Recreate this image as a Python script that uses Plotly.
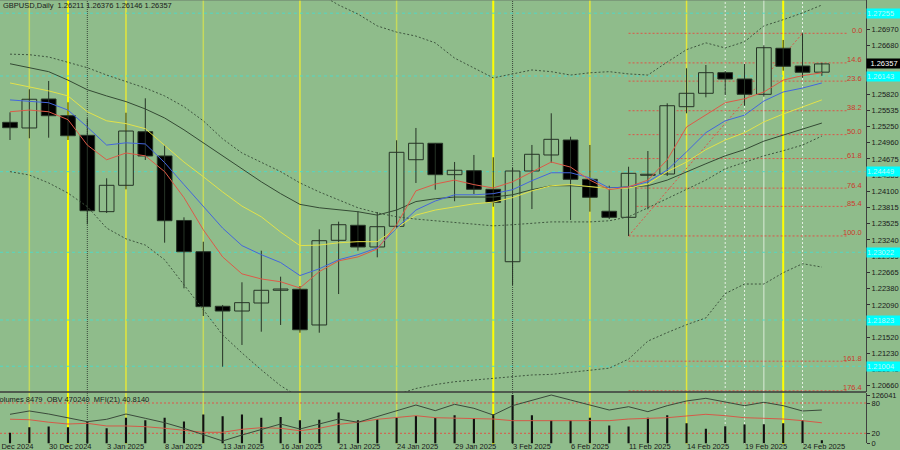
import plotly.graph_objects as go

# ---------------- data ----------------
dates = ["26 Dec 2024", "27 Dec 2024", "30 Dec 2024", "31 Dec 2024", "2 Jan 2025", "3 Jan 2025",
         "6 Jan 2025", "7 Jan 2025", "8 Jan 2025", "9 Jan 2025", "10 Jan 2025", "13 Jan 2025",
         "14 Jan 2025", "15 Jan 2025", "16 Jan 2025", "17 Jan 2025", "20 Jan 2025", "21 Jan 2025",
         "22 Jan 2025", "23 Jan 2025", "24 Jan 2025", "27 Jan 2025", "28 Jan 2025", "29 Jan 2025",
         "30 Jan 2025", "31 Jan 2025", "3 Feb 2025", "4 Feb 2025", "5 Feb 2025", "6 Feb 2025",
         "7 Feb 2025", "10 Feb 2025", "11 Feb 2025", "12 Feb 2025", "13 Feb 2025", "14 Feb 2025",
         "17 Feb 2025", "18 Feb 2025", "19 Feb 2025", "20 Feb 2025", "21 Feb 2025", "24 Feb 2025",
         "25 Feb 2025"]
first_label = "24 Dec 2024"

opens = [1.25323, 1.25223, 1.25736, 1.25440, 1.25093, 1.23741, 1.24208, 1.25157, 1.24727, 1.23585,
         1.23032, 1.22066, 1.21982, 1.22124, 1.22349, 1.22367, 1.21735, 1.23234, 1.23500, 1.23116,
         1.23482, 1.24661, 1.24952, 1.24396, 1.24467, 1.24137, 1.22855, 1.24461, 1.24745, 1.25010,
         1.24314, 1.23748, 1.23641, 1.24385, 1.24408, 1.25600, 1.25837, 1.26202, 1.26090, 1.25819,
         1.26634, 1.26320, 1.26211]
highs = [1.25500, 1.25908, 1.26055, 1.25678, 1.25394, 1.24332, 1.25493, 1.25748, 1.24922, 1.23641,
         1.23209, 1.22089, 1.22491, 1.23050, 1.22590, 1.22425, 1.23429, 1.23564, 1.23748, 1.23735,
         1.25005, 1.25223, 1.24957, 1.24621, 1.24745, 1.24704, 1.24514, 1.24922, 1.25483, 1.25068,
         1.24922, 1.24201, 1.24537, 1.24815, 1.25660, 1.26280, 1.26338, 1.26232, 1.26356, 1.26687,
         1.26781, 1.26899, 1.26376]
lows = [1.25010, 1.25040, 1.25051, 1.25010, 1.23518, 1.23718, 1.24137, 1.24656, 1.23192, 1.22384,
        1.21894, 1.20996, 1.21381, 1.21616, 1.21735, 1.21598, 1.21598, 1.22283, 1.23050, 1.22933,
        1.23452, 1.24249, 1.24130, 1.23925, 1.24054, 1.23829, 1.22443, 1.23788, 1.24608, 1.23594,
        1.23741, 1.23611, 1.23311, 1.23783, 1.24373, 1.25483, 1.25766, 1.25807, 1.25617, 1.25777,
        1.26237, 1.26113, 1.26146]
closes = [1.25228, 1.25731, 1.25440, 1.25086, 1.23758, 1.24208, 1.25169, 1.24727, 1.23581, 1.23032,
          1.22059, 1.21982, 1.22130, 1.22349, 1.22372, 1.21651, 1.23227, 1.23510, 1.23116, 1.23475,
          1.24792, 1.24952, 1.24396, 1.24474, 1.24137, 1.23907, 1.24461, 1.24757, 1.25022, 1.24314,
          1.23996, 1.23641, 1.24420, 1.24403, 1.25617, 1.25837, 1.26202, 1.26090, 1.25819, 1.26644,
          1.26315, 1.26209, 1.26357]

ma_red = [1.2551, 1.2554, 1.2551, 1.2537, 1.2492, 1.2466, 1.2478, 1.2473, 1.2445, 1.2399,
          1.2342, 1.2294, 1.2264, 1.2255, 1.2250, 1.2239, 1.2268, 1.2287, 1.2294, 1.2308,
          1.2351, 1.2411, 1.2423, 1.2430, 1.2422, 1.2416, 1.2427, 1.2445, 1.2462, 1.2453,
          1.2430, 1.2413, 1.2418, 1.2430, 1.2466, 1.2524, 1.2545, 1.2567, 1.2574, 1.2586,
          1.2607, 1.2615, 1.2620]
ma_blue = [1.2572, 1.2570, 1.2567, 1.2554, 1.2524, 1.2492, 1.2496, 1.2494, 1.2461, 1.2422,
           1.2383, 1.2345, 1.2314, 1.2298, 1.2284, 1.2261, 1.2273, 1.2289, 1.2298, 1.2310,
           1.2345, 1.2377, 1.2393, 1.2404, 1.2404, 1.2406, 1.2413, 1.2429, 1.2443, 1.2443,
           1.2434, 1.2416, 1.2418, 1.2427, 1.2448, 1.2480, 1.2514, 1.2535, 1.2545, 1.2570,
           1.2586, 1.2593, 1.2602]
ma_yellow = [1.2602, 1.2595, 1.2588, 1.2579, 1.2551, 1.2535, 1.2530, 1.2521, 1.2491, 1.2462,
             1.2436, 1.2409, 1.2384, 1.2365, 1.2338, 1.2314, 1.2315, 1.2319, 1.2321, 1.2321,
             1.2345, 1.2368, 1.2377, 1.2383, 1.2388, 1.2391, 1.2399, 1.2411, 1.2420, 1.2422,
             1.2418, 1.2415, 1.2416, 1.2423, 1.2445, 1.2462, 1.2484, 1.2501, 1.2514, 1.2533,
             1.2547, 1.2560, 1.2572]
ma_dark = [1.2636, 1.2629, 1.2622, 1.2607, 1.2590, 1.2579, 1.2569, 1.2556, 1.2540, 1.2519,
           1.2496, 1.2473, 1.2450, 1.2427, 1.2406, 1.2387, 1.2381, 1.2377, 1.2374, 1.2368,
           1.2377, 1.2392, 1.2397, 1.2400, 1.2400, 1.2400, 1.2404, 1.2413, 1.2420, 1.2420,
           1.2418, 1.2416, 1.2418, 1.2420, 1.2430, 1.2445, 1.2459, 1.2473, 1.2484, 1.2499,
           1.2510, 1.2521, 1.2531]
bb_mid = [1.2653, 1.2652, 1.2648, 1.2639, 1.2629, 1.2616, 1.2604, 1.2593, 1.2579, 1.2560,
          1.2535, 1.2503, 1.2478, 1.2462, 1.2445, 1.2425, 1.2409, 1.2395, 1.2381, 1.2372,
          1.2365, 1.2361, 1.2358, 1.2354, 1.2351, 1.2349, 1.2351, 1.2354, 1.2356, 1.2356,
          1.2356, 1.2358, 1.2365, 1.2381, 1.2397, 1.2413, 1.2430, 1.2450, 1.2462, 1.2473,
          1.2482, 1.2492, 1.2508]
bb_upper = [1.2862, 1.2864, 1.2871, 1.2871, 1.2875, 1.2887, 1.2882, 1.2871, 1.2869, 1.2875,
            1.2869, 1.2850, 1.2832, 1.2830, 1.2811, 1.2784, 1.2760, 1.2740, 1.2724, 1.2703,
            1.2692, 1.2685, 1.2673, 1.2646, 1.2629, 1.2611, 1.2618, 1.2625, 1.2622, 1.2616,
            1.2620, 1.2622, 1.2618, 1.2616, 1.2639, 1.2661, 1.2673, 1.2664, 1.2675, 1.2703,
            1.2714, 1.2726, 1.2740]
bb_lower = [1.2445, 1.2439, 1.2425, 1.2407, 1.2383, 1.2345, 1.2326, 1.2315, 1.2289, 1.2245,
            1.2200, 1.2156, 1.2124, 1.2094, 1.2066, 1.2045, 1.2032, 1.2027, 1.2032, 1.2041,
            1.2050, 1.2061, 1.2068, 1.2073, 1.2076, 1.2080, 1.2083, 1.2085, 1.2086, 1.2090,
            1.2093, 1.2097, 1.2113, 1.2145, 1.2160, 1.2174, 1.2186, 1.2229, 1.2246, 1.2246,
            1.2266, 1.2282, 1.2276]

volumes = [27500, 42300, 44100, 42300, 55500, 39600, 67100, 60000, 67100, 57300,
           75000, 70500, 75000, 67100, 68700, 60000, 61800, 80300, 60000, 62600,
           66000, 71300, 66000, 73200, 66000, 75800, 126041, 73200, 60000, 60000,
           67100, 46800, 44100, 67100, 73200, 52800, 38000, 44900, 49400, 50200,
           52800, 60000, 8479]
mfi = [47.9, 46.9, 42.0, 38.4, 39.8, 34.5, 34.5, 33.1, 29.9, 26.5,
       22.0, 22.0, 27.9, 31.1, 29.9, 25.1, 29.9, 37.8, 41.8, 47.7,
       51.7, 54.9, 50.9, 49.7, 49.7, 48.3, 45.0, 45.0, 45.0, 45.0,
       46.3, 45.0, 48.3, 49.7, 50.9, 54.3, 57.6, 54.9, 50.9, 49.7,
       48.3, 45.0, 40.814]
obv = [413300, 457500, 417300, 368400, 315500, 347000, 417300, 360400, 302100, 227700,
       148000, 59600, 138600, 214300, 284700, 218400, 284700, 351000, 307500, 381800,
       457500, 536600, 461600, 546000, 493100, 403900, 527900, 602900, 669300, 602900,
       536600, 470300, 514500, 448200, 527900, 590200, 625700, 580800, 527900, 572800,
       527900, 457500, 470240]

price_ticks = [1.26970, 1.26680, 1.26395, 1.26110, 1.25820, 1.25535, 1.25250, 1.24960, 1.24675,
               1.24385, 1.24100, 1.23815, 1.23525, 1.23240, 1.22955, 1.22665, 1.22380, 1.22090,
               1.21805, 1.21520, 1.21230, 1.20945, 1.20660]
fib_ratios = [0.0, 14.6, 23.6, 38.2, 50.0, 61.8, 76.4, 85.4, 100.0, 161.8, 176.4]
fib_low_idx, fib_high_idx = 32, 41
cyan_levels = [1.27255, 1.26143, 1.24449, 1.23022, 1.21823, 1.21004]
mfi_levels = [80, 20]

vl_bright = [3, 25, 40]
vl_mid = [6, 15, 30, 35]
vl_pale = [1, 10, 20]
vl_white_dot = [37, 38, 41]
vl_white = [39]
vl_dark_dot = [4, 26]

# ---------------- styles ----------------
BG = "#8fbc8b"
FONT = "Liberation Sans"
n = len(dates)
xs = list(range(n))

fig = go.Figure()

# wicks
wx, wy = [], []
for i in xs:
    wx += [i, i, None]
    wy += [lows[i], highs[i], None]
fig.add_trace(go.Scatter(x=wx, y=wy, mode="lines", line=dict(color="#263326", width=1),
                         hoverinfo="skip", showlegend=False))

bull = [i for i in xs if closes[i] >= opens[i]]
bear = [i for i in xs if closes[i] < opens[i]]
fig.add_trace(go.Bar(x=bull, base=[opens[i] for i in bull],
                     y=[closes[i] - opens[i] for i in bull], width=0.76,
                     marker=dict(color=BG, line=dict(color="#263326", width=1)),
                     showlegend=False))
fig.add_trace(go.Bar(x=bear, base=[closes[i] for i in bear],
                     y=[opens[i] - closes[i] for i in bear], width=0.76,
                     marker=dict(color="#000000", line=dict(color="#263326", width=1)),
                     showlegend=False))

for arr, col in [(ma_dark, "#344a34"), (ma_yellow, "#e2e24a"), (ma_blue, "#4466dd"), (ma_red, "#dd5a48")]:
    fig.add_trace(go.Scatter(x=xs, y=arr, mode="lines", line=dict(color=col, width=1),
                             showlegend=False, hoverinfo="skip"))
for arr in [bb_upper, bb_mid, bb_lower]:
    fig.add_trace(go.Scatter(x=xs, y=arr, mode="lines",
                             line=dict(color="#3f563f", width=1, dash="2px,2px"),
                             showlegend=False, hoverinfo="skip"))

# lower panel
fig.add_trace(go.Bar(x=xs, y=volumes, width=0.11, marker=dict(color="#111111", line=dict(width=0)),
                     xaxis="x2", yaxis="y2", showlegend=False))
fig.add_trace(go.Scatter(x=xs, y=obv, mode="lines", line=dict(color="#3b4a3b", width=1),
                         xaxis="x2", yaxis="y4", showlegend=False))
fig.add_trace(go.Scatter(x=xs, y=mfi, mode="lines", line=dict(color="#d55a48", width=1),
                         xaxis="x2", yaxis="y3", showlegend=False))

# ---------------- layout geometry ----------------
W, H = 900, 450
ML, MR, MT, MB = 0, 34, 0, 6
PH = H - MT - MB
PW = W - ML - MR
bar_px = 19.33
x_first_px = 10
x_lo = -x_first_px / bar_px
x_hi = (PW - x_first_px) / bar_px
px_per_price = 5648.0
y_top_price = 1.26970 + 29.3 / px_per_price
main_bottom_px = 392
y_bot_price = y_top_price - main_bottom_px / px_per_price
main_dom = [(PH - main_bottom_px) / PH, 1]
low_dom = [(PH - 443.4) / PH, (PH - 392.9) / PH]

def to_paper(i):
    return (i - x_lo) / (x_hi - x_lo)

shapes = []
def vline(i, color, width, dash="solid"):
    shapes.append(dict(type="line", xref="x", yref="paper", x0=i, x1=i, y0=0, y1=1,
                       layer="below", line=dict(color=color, width=width, dash=dash)))
for i in vl_pale:
    vline(i, "#c6da5c", 1.5)
for i in vl_mid:
    vline(i, "#e4e63a", 1.5)
for i in vl_bright:
    vline(i, "#ffff00", 2)
for i in vl_white:
    vline(i, "#dcebd8", 1)
for i in vl_white_dot:
    vline(i, "#e6f0e4", 1, "2px,2px")
for i in vl_dark_dot:
    vline(i, "#3a463a", 1, "1px,1px")

for lv in cyan_levels:
    shapes.append(dict(type="line", xref="paper", yref="y", x0=0, x1=1, y0=lv, y1=lv,
                       layer="below", line=dict(color="#52d8c4", width=1, dash="3px,3px")))

fib_hi = highs[fib_high_idx]
fib_lo = lows[fib_low_idx]
fib_end = (848 - x_first_px) / bar_px
fib_lab_x = (864 - x_first_px) / bar_px
annotations = []
for r in fib_ratios:
    lv = fib_hi - (fib_hi - fib_lo) * r / 100.0
    shapes.append(dict(type="line", xref="x", yref="y", x0=fib_low_idx, x1=fib_end, y0=lv, y1=lv,
                       layer="below", line=dict(color="#dd5548", width=1, dash="2px,2px")))
    annotations.append(dict(x=fib_lab_x, y=lv, xref="x", yref="y", text=f"{r:.1f}",
                            showarrow=False, xanchor="right", yanchor="middle", yshift=3,
                            font=dict(family=FONT, size=7.5, color="#cc3a2c")))
shapes.append(dict(type="line", xref="x", yref="y", x0=fib_low_idx, x1=fib_high_idx,
                   y0=fib_lo, y1=fib_hi, layer="below",
                   line=dict(color="#dd5548", width=1, dash="2px,2px")))

for lv in mfi_levels:
    shapes.append(dict(type="line", xref="paper", yref="y3", x0=0, x1=1, y0=lv, y1=lv,
                       layer="below", line=dict(color="#dd5548", width=1, dash="2px,2px")))

shapes.append(dict(type="line", xref="paper", yref="paper", x0=0, x1=1,
                   y0=main_dom[0], y1=main_dom[0], line=dict(color="#3a3a3a", width=1.5)))
shapes.append(dict(type="line", xref="paper", yref="paper", x0=0, x1=1, y0=1, y1=1,
                   line=dict(color="#6a7a6a", width=1)))

# cyan price boxes and current price box
for lv in cyan_levels:
    annotations.append(dict(x=1, y=lv, xref="paper", yref="y", text=f"{lv:.5f}", showarrow=False,
                            xanchor="left", yanchor="middle", bgcolor="#00ffff", borderpad=0,
                            width=34, align="left",
                            font=dict(family=FONT, size=7.5, color="#bff8f8")))
annotations.append(dict(x=1, y=closes[-1], xref="paper", yref="y", text=f"{closes[-1]:.5f}",
                        showarrow=False, xanchor="left", yanchor="middle", bgcolor="#000000",
                        borderpad=0, width=34, align="center",
                        font=dict(family=FONT, size=7.5, color="#ffffff")))

annotations.append(dict(x=2 / PW, y=1, xref="paper", yref="paper", xanchor="left", yanchor="top",
                        text=f"GBPUSD,Daily  {opens[-1]:.5f} {highs[-1]:.5f} {lows[-1]:.5f} {closes[-1]:.5f}",
                        showarrow=False, borderpad=0,
                        font=dict(family=FONT, size=7.5, color="#1a1a1a")))
annotations.append(dict(x=-6 / PW, y=low_dom[1] - 0.002, xref="paper", yref="paper",
                        xanchor="left", yanchor="top",
                        text=f"Volumes {volumes[-1]}  OBV {obv[-1]}  MFI(21) {mfi[-1]:.4f}",
                        showarrow=False, borderpad=0,
                        font=dict(family=FONT, size=7.5, color="#1a1a1a")))

# date labels
date_lbl = [(-1, first_label)] + [(i, dates[i]) for i in range(2, n, 3)]
for i, t in date_lbl:
    annotations.append(dict(x=to_paper(i), y=0, xref="paper", yref="paper", xanchor="left",
                            yanchor="top", xshift=-1, yshift=3, text=t, showarrow=False,
                            borderpad=0, font=dict(family=FONT, size=7.5, color="#1a1a1a")))

tickfont = dict(family=FONT, size=7.5, color="#1a1a1a")
fig.update_layout(
    width=W, height=H, margin=dict(l=ML, r=MR, t=MT, b=MB, autoexpand=False),
    paper_bgcolor=BG, plot_bgcolor=BG, barmode="overlay", showlegend=False,
    xaxis=dict(range=[x_lo, x_hi], domain=[0, 1], anchor="y", showticklabels=False,
               showgrid=False, zeroline=False, ticks="", automargin=False),
    xaxis2=dict(range=[x_lo, x_hi], domain=[0, 1], anchor="y2", matches="x",
                showticklabels=False, showgrid=False, zeroline=False, ticks="", automargin=False),
    yaxis=dict(range=[y_bot_price, y_top_price], domain=main_dom, side="right", anchor="x",
               tickvals=price_ticks, ticktext=[f"{v:.5f}" for v in price_ticks],
               ticks="outside", ticklen=3, tickcolor="#333333", tickfont=tickfont, automargin=False,
               showgrid=False, zeroline=False, showline=True, linecolor="#404040", linewidth=1),
    yaxis2=dict(range=[0, 131550], domain=low_dom, side="right", anchor="x2",
                tickvals=[max(volumes)], ticktext=[str(max(volumes))], automargin=False,
                ticks="outside", ticklen=3, tickcolor="#333333", tickfont=tickfont,
                showgrid=False, zeroline=False, showline=True, linecolor="#404040", linewidth=1),
    yaxis3=dict(range=[0, 100], overlaying="y2", side="right", anchor="x2",
                tickvals=[80, 20, 0], ticktext=["80", "20", "0"], automargin=False,
                ticks="outside", ticklen=3, tickcolor="#333333", tickfont=tickfont,
                showgrid=False, zeroline=False),
    yaxis4=dict(range=[27400, 697400], overlaying="y2", visible=False, anchor="x2"),
    shapes=shapes, annotations=annotations,
)

fig.write_html("out.html", config={"displayModeBar": False},
               post_script="document.body.style.margin='0';document.body.style.padding='0';"
                           "document.body.style.overflow='hidden';")
